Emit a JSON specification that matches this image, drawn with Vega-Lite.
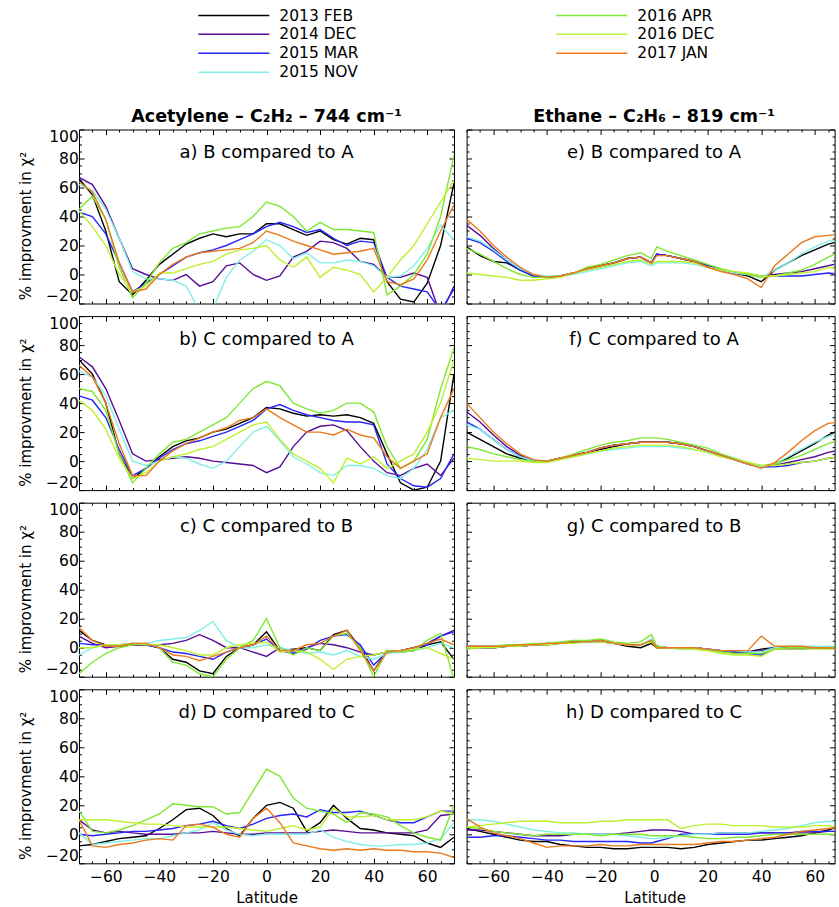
{
"$schema":"https://vega.github.io/schema/vega-lite/v6.json",
"padding":{"left":18,"top":5.5,"right":1,"bottom":0},
"background":"white",
"data":{"values":[
{"p":"a","lat":-70,"F13":66,"D14":67,"M15":43,"N15":62,"A16":45,"D16":44,"J17":64},
{"p":"a","lat":-65,"F13":55,"D14":62,"M15":40,"N15":58,"A16":54,"D16":33,"J17":57},
{"p":"a","lat":-60,"F13":30,"D14":47,"M15":28,"N15":45,"A16":38,"D16":20,"J17":38},
{"p":"a","lat":-55,"F13":-5,"D14":25,"M15":8,"N15":25,"A16":5,"D16":0,"J17":8},
{"p":"a","lat":-50,"F13":-14,"D14":4,"M15":-12,"N15":2,"A16":-16,"D16":-12,"J17":-12},
{"p":"a","lat":-45,"F13":-4,"D14":0,"M15":-6,"N15":-3,"A16":-6,"D16":-8,"J17":-10},
{"p":"a","lat":-40,"F13":7,"D14":-3,"M15":0,"N15":-3,"A16":8,"D16":1,"J17":0},
{"p":"a","lat":-35,"F13":14,"D14":-4,"M15":6,"N15":-4,"A16":18,"D16":1,"J17":7},
{"p":"a","lat":-30,"F13":21,"D14":0,"M15":12,"N15":-8,"A16":22,"D16":4,"J17":12},
{"p":"a","lat":-25,"F13":25,"D14":-8,"M15":15,"N15":-25,"A16":28,"D16":7,"J17":15},
{"p":"a","lat":-20,"F13":28,"D14":-5,"M15":17,"N15":-24,"A16":30,"D16":9,"J17":16},
{"p":"a","lat":-15,"F13":26,"D14":6,"M15":20,"N15":-2,"A16":32,"D16":14,"J17":17},
{"p":"a","lat":-10,"F13":28,"D14":8,"M15":24,"N15":10,"A16":33,"D16":17,"J17":18},
{"p":"a","lat":-5,"F13":28,"D14":0,"M15":28,"N15":16,"A16":40,"D16":18,"J17":22},
{"p":"a","lat":0,"F13":35,"D14":-4,"M15":33,"N15":24,"A16":50,"D16":20,"J17":30},
{"p":"a","lat":5,"F13":35,"D14":-1,"M15":36,"N15":20,"A16":47,"D16":10,"J17":27},
{"p":"a","lat":10,"F13":31,"D14":12,"M15":33,"N15":11,"A16":40,"D16":5,"J17":23},
{"p":"a","lat":15,"F13":27,"D14":16,"M15":29,"N15":15,"A16":30,"D16":12,"J17":20},
{"p":"a","lat":20,"F13":30,"D14":23,"M15":31,"N15":8,"A16":36,"D16":-2,"J17":17},
{"p":"a","lat":25,"F13":24,"D14":22,"M15":25,"N15":8,"A16":31,"D16":5,"J17":14},
{"p":"a","lat":30,"F13":21,"D14":18,"M15":20,"N15":10,"A16":31,"D16":3,"J17":15},
{"p":"a","lat":35,"F13":25,"D14":9,"M15":23,"N15":9,"A16":30,"D16":0,"J17":16},
{"p":"a","lat":40,"F13":24,"D14":7,"M15":22,"N15":6,"A16":29,"D16":-12,"J17":18},
{"p":"a","lat":45,"F13":-5,"D14":-2,"M15":-2,"N15":-2,"A16":-14,"D16":-2,"J17":-5},
{"p":"a","lat":50,"F13":-17,"D14":-2,"M15":-8,"N15":-1,"A16":-8,"D16":10,"J17":-7},
{"p":"a","lat":55,"F13":-19,"D14":1,"M15":-10,"N15":6,"A16":0,"D16":20,"J17":-3},
{"p":"a","lat":60,"F13":-6,"D14":-2,"M15":-12,"N15":18,"A16":14,"D16":35,"J17":10},
{"p":"a","lat":65,"F13":20,"D14":-28,"M15":-25,"N15":34,"A16":40,"D16":50,"J17":30},
{"p":"a","lat":70,"F13":63,"D14":-8,"M15":-10,"N15":24,"A16":82,"D16":65,"J17":48},
{"p":"b","lat":-70,"F13":70,"D14":72,"M15":45,"N15":62,"A16":50,"D16":42,"J17":66},
{"p":"b","lat":-65,"F13":60,"D14":65,"M15":42,"N15":58,"A16":48,"D16":35,"J17":58},
{"p":"b","lat":-60,"F13":40,"D14":50,"M15":30,"N15":45,"A16":35,"D16":22,"J17":40},
{"p":"b","lat":-55,"F13":5,"D14":28,"M15":8,"N15":22,"A16":5,"D16":2,"J17":12},
{"p":"b","lat":-50,"F13":-12,"D14":5,"M15":-10,"N15":0,"A16":-15,"D16":-12,"J17":-10},
{"p":"b","lat":-45,"F13":-5,"D14":0,"M15":-5,"N15":-3,"A16":-5,"D16":-8,"J17":-10},
{"p":"b","lat":-40,"F13":3,"D14":1,"M15":2,"N15":0,"A16":5,"D16":0,"J17":0},
{"p":"b","lat":-35,"F13":10,"D14":2,"M15":8,"N15":3,"A16":13,"D16":3,"J17":7},
{"p":"b","lat":-30,"F13":14,"D14":3,"M15":12,"N15":2,"A16":15,"D16":5,"J17":12},
{"p":"b","lat":-25,"F13":16,"D14":2,"M15":14,"N15":-2,"A16":20,"D16":8,"J17":16},
{"p":"b","lat":-20,"F13":20,"D14":0,"M15":17,"N15":-5,"A16":25,"D16":10,"J17":20},
{"p":"b","lat":-15,"F13":22,"D14":-1,"M15":20,"N15":0,"A16":30,"D16":15,"J17":23},
{"p":"b","lat":-10,"F13":26,"D14":-2,"M15":24,"N15":10,"A16":40,"D16":20,"J17":28},
{"p":"b","lat":-5,"F13":30,"D14":-3,"M15":28,"N15":20,"A16":50,"D16":25,"J17":30},
{"p":"b","lat":0,"F13":37,"D14":-8,"M15":36,"N15":24,"A16":55,"D16":27,"J17":36},
{"p":"b","lat":5,"F13":36,"D14":-4,"M15":39,"N15":14,"A16":52,"D16":15,"J17":30},
{"p":"b","lat":10,"F13":33,"D14":10,"M15":35,"N15":3,"A16":40,"D16":5,"J17":25},
{"p":"b","lat":15,"F13":31,"D14":20,"M15":32,"N15":-2,"A16":36,"D16":0,"J17":20},
{"p":"b","lat":20,"F13":32,"D14":24,"M15":30,"N15":-8,"A16":33,"D16":-5,"J17":20},
{"p":"b","lat":25,"F13":31,"D14":25,"M15":28,"N15":-10,"A16":35,"D16":-15,"J17":18},
{"p":"b","lat":30,"F13":32,"D14":21,"M15":27,"N15":-3,"A16":40,"D16":2,"J17":22},
{"p":"b","lat":35,"F13":30,"D14":10,"M15":27,"N15":-3,"A16":40,"D16":-2,"J17":18},
{"p":"b","lat":40,"F13":26,"D14":0,"M15":25,"N15":-5,"A16":34,"D16":3,"J17":16},
{"p":"b","lat":45,"F13":5,"D14":-8,"M15":-2,"N15":-10,"A16":10,"D16":-5,"J17":3},
{"p":"b","lat":50,"F13":-15,"D14":-10,"M15":-12,"N15":-12,"A16":-5,"D16":0,"J17":-5},
{"p":"b","lat":55,"F13":-20,"D14":-5,"M15":-17,"N15":-5,"A16":0,"D16":5,"J17":0},
{"p":"b","lat":60,"F13":-18,"D14":-2,"M15":-18,"N15":8,"A16":15,"D16":20,"J17":5},
{"p":"b","lat":65,"F13":0,"D14":-10,"M15":-12,"N15":30,"A16":50,"D16":40,"J17":30},
{"p":"b","lat":70,"F13":60,"D14":2,"M15":5,"N15":35,"A16":78,"D16":70,"J17":50},
{"p":"c","lat":-70,"F13":12,"D14":8,"M15":3,"N15":-5,"A16":-18,"D16":0,"J17":14},
{"p":"c","lat":-65,"F13":5,"D14":3,"M15":2,"N15":0,"A16":-10,"D16":0,"J17":5},
{"p":"c","lat":-60,"F13":2,"D14":0,"M15":2,"N15":2,"A16":-4,"D16":2,"J17":1},
{"p":"c","lat":-55,"F13":1,"D14":1,"M15":2,"N15":2,"A16":0,"D16":2,"J17":1},
{"p":"c","lat":-50,"F13":2,"D14":2,"M15":3,"N15":3,"A16":2,"D16":3,"J17":3},
{"p":"c","lat":-45,"F13":2,"D14":2,"M15":2,"N15":3,"A16":3,"D16":2,"J17":3},
{"p":"c","lat":-40,"F13":0,"D14":2,"M15":0,"N15":5,"A16":0,"D16":2,"J17":0},
{"p":"c","lat":-35,"F13":-8,"D14":3,"M15":-3,"N15":6,"A16":-10,"D16":0,"J17":-5},
{"p":"c","lat":-30,"F13":-10,"D14":5,"M15":-4,"N15":7,"A16":-12,"D16":-2,"J17":-6},
{"p":"c","lat":-25,"F13":-16,"D14":9,"M15":-6,"N15":12,"A16":-18,"D16":-5,"J17":-9},
{"p":"c","lat":-20,"F13":-18,"D14":5,"M15":-8,"N15":18,"A16":-20,"D16":-5,"J17":-6},
{"p":"c","lat":-15,"F13":-6,"D14":0,"M15":-3,"N15":5,"A16":-8,"D16":0,"J17":-3},
{"p":"c","lat":-10,"F13":0,"D14":0,"M15":0,"N15":0,"A16":0,"D16":2,"J17":0},
{"p":"c","lat":-5,"F13":2,"D14":-3,"M15":2,"N15":0,"A16":5,"D16":3,"J17":2},
{"p":"c","lat":0,"F13":11,"D14":-6,"M15":6,"N15":2,"A16":20,"D16":4,"J17":8},
{"p":"c","lat":5,"F13":-2,"D14":0,"M15":-2,"N15":0,"A16":0,"D16":-3,"J17":-2},
{"p":"c","lat":10,"F13":-1,"D14":-3,"M15":-4,"N15":-2,"A16":-5,"D16":-2,"J17":-2},
{"p":"c","lat":15,"F13":0,"D14":0,"M15":-1,"N15":-4,"A16":0,"D16":-3,"J17":2},
{"p":"c","lat":20,"F13":-2,"D14":3,"M15":5,"N15":-3,"A16":-2,"D16":-8,"J17":3},
{"p":"c","lat":25,"F13":9,"D14":2,"M15":8,"N15":-5,"A16":8,"D16":-15,"J17":8},
{"p":"c","lat":30,"F13":12,"D14":0,"M15":9,"N15":-2,"A16":10,"D16":-8,"J17":12},
{"p":"c","lat":35,"F13":0,"D14":-3,"M15":2,"N15":-6,"A16":0,"D16":-6,"J17":-2},
{"p":"c","lat":40,"F13":-16,"D14":-5,"M15":-12,"N15":-8,"A16":-20,"D16":-5,"J17":-16},
{"p":"c","lat":45,"F13":-2,"D14":-3,"M15":-3,"N15":-4,"A16":-2,"D16":-3,"J17":-3},
{"p":"c","lat":50,"F13":-3,"D14":-2,"M15":-2,"N15":-3,"A16":-3,"D16":-2,"J17":-2},
{"p":"c","lat":55,"F13":-2,"D14":0,"M15":0,"N15":-2,"A16":-2,"D16":-1,"J17":0},
{"p":"c","lat":60,"F13":2,"D14":3,"M15":2,"N15":0,"A16":5,"D16":0,"J17":3},
{"p":"c","lat":65,"F13":4,"D14":8,"M15":8,"N15":3,"A16":10,"D16":-4,"J17":6},
{"p":"c","lat":70,"F13":-8,"D14":12,"M15":11,"N15":0,"A16":-22,"D16":-8,"J17":2},
{"p":"d","lat":-70,"F13":-8,"D14":10,"M15":0,"N15":1,"A16":16,"D16":10,"J17":10},
{"p":"d","lat":-65,"F13":-7,"D14":3,"M15":-1,"N15":-7,"A16":2,"D16":10,"J17":-8},
{"p":"d","lat":-60,"F13":-5,"D14":1,"M15":0,"N15":-6,"A16":1,"D16":10,"J17":-9},
{"p":"d","lat":-55,"F13":-3,"D14":2,"M15":1,"N15":-5,"A16":3,"D16":9,"J17":-7},
{"p":"d","lat":-50,"F13":-2,"D14":1,"M15":2,"N15":-4,"A16":6,"D16":8,"J17":-6},
{"p":"d","lat":-45,"F13":-1,"D14":0,"M15":2,"N15":-3,"A16":10,"D16":7,"J17":-4},
{"p":"d","lat":-40,"F13":4,"D14":0,"M15":3,"N15":-3,"A16":14,"D16":7,"J17":-3},
{"p":"d","lat":-35,"F13":10,"D14":0,"M15":4,"N15":-1,"A16":21,"D16":6,"J17":-4},
{"p":"d","lat":-30,"F13":17,"D14":1,"M15":6,"N15":1,"A16":20,"D16":5,"J17":6},
{"p":"d","lat":-25,"F13":18,"D14":1,"M15":7,"N15":3,"A16":19,"D16":5,"J17":7},
{"p":"d","lat":-20,"F13":13,"D14":2,"M15":9,"N15":8,"A16":19,"D16":5,"J17":5},
{"p":"d","lat":-15,"F13":4,"D14":1,"M15":6,"N15":3,"A16":14,"D16":5,"J17":0},
{"p":"d","lat":-10,"F13":-1,"D14":0,"M15":4,"N15":0,"A16":15,"D16":4,"J17":-2},
{"p":"d","lat":-5,"F13":11,"D14":0,"M15":7,"N15":-1,"A16":30,"D16":3,"J17":11},
{"p":"d","lat":0,"F13":20,"D14":1,"M15":11,"N15":0,"A16":45,"D16":2,"J17":18},
{"p":"d","lat":5,"F13":22,"D14":1,"M15":13,"N15":0,"A16":40,"D16":4,"J17":8},
{"p":"d","lat":10,"F13":18,"D14":1,"M15":14,"N15":0,"A16":25,"D16":6,"J17":-6},
{"p":"d","lat":15,"F13":2,"D14":1,"M15":12,"N15":0,"A16":18,"D16":3,"J17":-8},
{"p":"d","lat":20,"F13":8,"D14":2,"M15":17,"N15":3,"A16":16,"D16":5,"J17":-10},
{"p":"d","lat":25,"F13":20,"D14":3,"M15":15,"N15":-2,"A16":14,"D16":18,"J17":-11},
{"p":"d","lat":30,"F13":11,"D14":2,"M15":15,"N15":-5,"A16":8,"D16":12,"J17":-10},
{"p":"d","lat":35,"F13":4,"D14":1,"M15":16,"N15":-7,"A16":15,"D16":12,"J17":-11},
{"p":"d","lat":40,"F13":3,"D14":1,"M15":13,"N15":-8,"A16":14,"D16":13,"J17":-10},
{"p":"d","lat":45,"F13":1,"D14":1,"M15":10,"N15":-8,"A16":12,"D16":10,"J17":-11},
{"p":"d","lat":50,"F13":0,"D14":1,"M15":8,"N15":-7,"A16":6,"D16":10,"J17":-11},
{"p":"d","lat":55,"F13":-1,"D14":1,"M15":8,"N15":-7,"A16":1,"D16":10,"J17":-12},
{"p":"d","lat":60,"F13":-6,"D14":3,"M15":12,"N15":-6,"A16":-2,"D16":12,"J17":-12},
{"p":"d","lat":65,"F13":-9,"D14":13,"M15":16,"N15":-3,"A16":-4,"D16":16,"J17":-13},
{"p":"d","lat":70,"F13":-2,"D14":14,"M15":16,"N15":8,"A16":20,"D16":14,"J17":-16},
{"p":"e","lat":-70,"F13":19,"D14":34,"M15":25,"N15":26,"A16":18,"D16":1,"J17":38},
{"p":"e","lat":-65,"F13":13,"D14":27,"M15":22,"N15":23,"A16":14,"D16":0,"J17":30},
{"p":"e","lat":-60,"F13":9,"D14":18,"M15":16,"N15":17,"A16":9,"D16":-1,"J17":20},
{"p":"e","lat":-55,"F13":8,"D14":10,"M15":9,"N15":10,"A16":4,"D16":-2,"J17":12},
{"p":"e","lat":-50,"F13":3,"D14":4,"M15":3,"N15":4,"A16":0,"D16":-4,"J17":5},
{"p":"e","lat":-45,"F13":-1,"D14":-1,"M15":-1,"N15":0,"A16":-2,"D16":-4,"J17":0},
{"p":"e","lat":-40,"F13":-2,"D14":-2,"M15":-2,"N15":-1,"A16":-2,"D16":-3,"J17":-2},
{"p":"e","lat":-35,"F13":-1,"D14":-1,"M15":-1,"N15":-1,"A16":-1,"D16":-2,"J17":-1},
{"p":"e","lat":-30,"F13":1,"D14":1,"M15":1,"N15":0,"A16":1,"D16":1,"J17":1},
{"p":"e","lat":-25,"F13":4,"D14":4,"M15":4,"N15":2,"A16":5,"D16":3,"J17":4},
{"p":"e","lat":-20,"F13":6,"D14":6,"M15":6,"N15":4,"A16":7,"D16":5,"J17":6},
{"p":"e","lat":-15,"F13":8,"D14":8,"M15":8,"N15":6,"A16":10,"D16":7,"J17":8},
{"p":"e","lat":-10,"F13":11,"D14":11,"M15":11,"N15":8,"A16":13,"D16":9,"J17":11},
{"p":"e","lat":-5,"F13":12,"D14":12,"M15":12,"N15":9,"A16":15,"D16":10,"J17":12},
{"p":"e","lat":-1,"F13":8,"D14":8,"M15":8,"N15":6,"A16":11,"D16":7,"J17":8},
{"p":"e","lat":1,"F13":14,"D14":14,"M15":14,"N15":8,"A16":19,"D16":9,"J17":13},
{"p":"e","lat":5,"F13":13,"D14":13,"M15":13,"N15":8,"A16":16,"D16":9,"J17":13},
{"p":"e","lat":10,"F13":11,"D14":11,"M15":11,"N15":8,"A16":13,"D16":9,"J17":11},
{"p":"e","lat":15,"F13":9,"D14":9,"M15":9,"N15":7,"A16":10,"D16":8,"J17":9},
{"p":"e","lat":20,"F13":6,"D14":6,"M15":6,"N15":5,"A16":7,"D16":5,"J17":5},
{"p":"e","lat":25,"F13":3,"D14":3,"M15":3,"N15":3,"A16":4,"D16":3,"J17":2},
{"p":"e","lat":30,"F13":1,"D14":1,"M15":1,"N15":1,"A16":2,"D16":2,"J17":0},
{"p":"e","lat":35,"F13":-1,"D14":0,"M15":0,"N15":0,"A16":0,"D16":1,"J17":-3},
{"p":"e","lat":40,"F13":-5,"D14":-1,"M15":-1,"N15":-2,"A16":-2,"D16":-1,"J17":-9},
{"p":"e","lat":45,"F13":3,"D14":0,"M15":-1,"N15":3,"A16":-1,"D16":-1,"J17":6},
{"p":"e","lat":50,"F13":8,"D14":1,"M15":-1,"N15":8,"A16":1,"D16":0,"J17":14},
{"p":"e","lat":55,"F13":13,"D14":2,"M15":-1,"N15":14,"A16":3,"D16":1,"J17":22},
{"p":"e","lat":60,"F13":17,"D14":4,"M15":0,"N15":19,"A16":7,"D16":2,"J17":26},
{"p":"e","lat":65,"F13":21,"D14":6,"M15":1,"N15":23,"A16":12,"D16":5,"J17":27},
{"p":"e","lat":70,"F13":23,"D14":8,"M15":0,"N15":24,"A16":16,"D16":3,"J17":28},
{"p":"f","lat":-70,"F13":20,"D14":34,"M15":27,"N15":25,"A16":10,"D16":2,"J17":40},
{"p":"f","lat":-65,"F13":15,"D14":27,"M15":22,"N15":22,"A16":8,"D16":1,"J17":30},
{"p":"f","lat":-60,"F13":10,"D14":18,"M15":15,"N15":15,"A16":5,"D16":0,"J17":20},
{"p":"f","lat":-55,"F13":5,"D14":10,"M15":8,"N15":8,"A16":3,"D16":0,"J17":12},
{"p":"f","lat":-50,"F13":2,"D14":4,"M15":3,"N15":3,"A16":1,"D16":0,"J17":5},
{"p":"f","lat":-45,"F13":0,"D14":0,"M15":0,"N15":0,"A16":0,"D16":-1,"J17":1},
{"p":"f","lat":-40,"F13":0,"D14":0,"M15":0,"N15":-1,"A16":0,"D16":-1,"J17":0},
{"p":"f","lat":-35,"F13":2,"D14":2,"M15":2,"N15":1,"A16":2,"D16":1,"J17":2},
{"p":"f","lat":-30,"F13":4,"D14":4,"M15":4,"N15":3,"A16":5,"D16":3,"J17":4},
{"p":"f","lat":-25,"F13":6,"D14":6,"M15":6,"N15":5,"A16":8,"D16":5,"J17":6},
{"p":"f","lat":-20,"F13":8,"D14":9,"M15":9,"N15":7,"A16":11,"D16":7,"J17":9},
{"p":"f","lat":-15,"F13":10,"D14":11,"M15":11,"N15":8,"A16":13,"D16":9,"J17":11},
{"p":"f","lat":-10,"F13":12,"D14":12,"M15":12,"N15":9,"A16":14,"D16":10,"J17":12},
{"p":"f","lat":-5,"F13":13,"D14":13,"M15":13,"N15":10,"A16":16,"D16":11,"J17":13},
{"p":"f","lat":-1,"F13":13,"D14":13,"M15":13,"N15":10,"A16":16,"D16":11,"J17":13},
{"p":"f","lat":1,"F13":13,"D14":13,"M15":13,"N15":10,"A16":16,"D16":11,"J17":13},
{"p":"f","lat":5,"F13":13,"D14":13,"M15":13,"N15":10,"A16":15,"D16":11,"J17":13},
{"p":"f","lat":10,"F13":12,"D14":12,"M15":12,"N15":9,"A16":13,"D16":10,"J17":12},
{"p":"f","lat":15,"F13":10,"D14":10,"M15":10,"N15":8,"A16":11,"D16":8,"J17":10},
{"p":"f","lat":20,"F13":7,"D14":7,"M15":7,"N15":6,"A16":9,"D16":6,"J17":7},
{"p":"f","lat":25,"F13":4,"D14":4,"M15":4,"N15":3,"A16":5,"D16":3,"J17":4},
{"p":"f","lat":30,"F13":1,"D14":1,"M15":1,"N15":1,"A16":2,"D16":1,"J17":1},
{"p":"f","lat":35,"F13":-2,"D14":-2,"M15":-2,"N15":-2,"A16":-1,"D16":-1,"J17":-2},
{"p":"f","lat":40,"F13":-4,"D14":-4,"M15":-4,"N15":-4,"A16":-3,"D16":-3,"J17":-5},
{"p":"f","lat":45,"F13":-2,"D14":-3,"M15":-4,"N15":-2,"A16":-2,"D16":-3,"J17":-1},
{"p":"f","lat":50,"F13":2,"D14":-1,"M15":-3,"N15":3,"A16":1,"D16":-2,"J17":6},
{"p":"f","lat":55,"F13":7,"D14":1,"M15":-1,"N15":8,"A16":4,"D16":-1,"J17":14},
{"p":"f","lat":60,"F13":12,"D14":3,"M15":0,"N15":13,"A16":8,"D16":0,"J17":21},
{"p":"f","lat":65,"F13":18,"D14":6,"M15":2,"N15":17,"A16":12,"D16":2,"J17":26},
{"p":"f","lat":70,"F13":22,"D14":8,"M15":3,"N15":20,"A16":15,"D16":3,"J17":27},
{"p":"g","lat":-70,"F13":1,"D14":1,"M15":0,"N15":1,"A16":-1,"D16":0,"J17":1},
{"p":"g","lat":-65,"F13":0,"D14":1,"M15":0,"N15":1,"A16":0,"D16":0,"J17":1},
{"p":"g","lat":-60,"F13":0,"D14":1,"M15":0,"N15":1,"A16":1,"D16":0,"J17":1},
{"p":"g","lat":-55,"F13":1,"D14":1,"M15":1,"N15":1,"A16":2,"D16":1,"J17":1},
{"p":"g","lat":-50,"F13":1,"D14":1,"M15":1,"N15":2,"A16":2,"D16":1,"J17":2},
{"p":"g","lat":-45,"F13":2,"D14":2,"M15":2,"N15":2,"A16":3,"D16":2,"J17":2},
{"p":"g","lat":-40,"F13":2,"D14":3,"M15":3,"N15":3,"A16":3,"D16":2,"J17":3},
{"p":"g","lat":-35,"F13":3,"D14":3,"M15":3,"N15":3,"A16":4,"D16":3,"J17":3},
{"p":"g","lat":-30,"F13":4,"D14":4,"M15":4,"N15":3,"A16":5,"D16":3,"J17":4},
{"p":"g","lat":-25,"F13":4,"D14":4,"M15":4,"N15":4,"A16":5,"D16":4,"J17":4},
{"p":"g","lat":-20,"F13":4,"D14":5,"M15":5,"N15":4,"A16":6,"D16":4,"J17":5},
{"p":"g","lat":-15,"F13":3,"D14":3,"M15":3,"N15":3,"A16":4,"D16":3,"J17":3},
{"p":"g","lat":-10,"F13":1,"D14":2,"M15":2,"N15":2,"A16":3,"D16":2,"J17":2},
{"p":"g","lat":-5,"F13":0,"D14":2,"M15":2,"N15":2,"A16":4,"D16":2,"J17":2},
{"p":"g","lat":-1,"F13":3,"D14":5,"M15":5,"N15":6,"A16":9,"D16":4,"J17":5},
{"p":"g","lat":1,"F13":0,"D14":1,"M15":1,"N15":1,"A16":1,"D16":0,"J17":0},
{"p":"g","lat":5,"F13":0,"D14":0,"M15":0,"N15":0,"A16":0,"D16":0,"J17":0},
{"p":"g","lat":10,"F13":0,"D14":0,"M15":0,"N15":0,"A16":-1,"D16":0,"J17":0},
{"p":"g","lat":15,"F13":0,"D14":0,"M15":0,"N15":0,"A16":-1,"D16":-1,"J17":0},
{"p":"g","lat":20,"F13":-1,"D14":-1,"M15":-1,"N15":-1,"A16":-2,"D16":-2,"J17":-1},
{"p":"g","lat":25,"F13":-2,"D14":-2,"M15":-2,"N15":-2,"A16":-3,"D16":-4,"J17":-2},
{"p":"g","lat":30,"F13":-3,"D14":-2,"M15":-3,"N15":-2,"A16":-4,"D16":-5,"J17":-2},
{"p":"g","lat":35,"F13":-3,"D14":-3,"M15":-4,"N15":-3,"A16":-4,"D16":-5,"J17":-2},
{"p":"g","lat":40,"F13":-1,"D14":-2,"M15":-5,"N15":-3,"A16":-4,"D16":-6,"J17":8},
{"p":"g","lat":45,"F13":0,"D14":0,"M15":-1,"N15":0,"A16":-1,"D16":-1,"J17":1},
{"p":"g","lat":50,"F13":0,"D14":0,"M15":-1,"N15":1,"A16":0,"D16":-1,"J17":1},
{"p":"g","lat":55,"F13":0,"D14":0,"M15":-1,"N15":1,"A16":0,"D16":-1,"J17":1},
{"p":"g","lat":60,"F13":0,"D14":0,"M15":0,"N15":1,"A16":0,"D16":-1,"J17":0},
{"p":"g","lat":65,"F13":0,"D14":0,"M15":0,"N15":1,"A16":0,"D16":-1,"J17":0},
{"p":"g","lat":70,"F13":1,"D14":0,"M15":0,"N15":1,"A16":1,"D16":-1,"J17":-1},
{"p":"h","lat":-70,"F13":4,"D14":3,"M15":-2,"N15":10,"A16":5,"D16":5,"J17":11},
{"p":"h","lat":-65,"F13":2,"D14":3,"M15":-2,"N15":10,"A16":4,"D16":6,"J17":5},
{"p":"h","lat":-60,"F13":0,"D14":2,"M15":-1,"N15":9,"A16":2,"D16":7,"J17":1},
{"p":"h","lat":-55,"F13":-2,"D14":1,"M15":-1,"N15":7,"A16":1,"D16":8,"J17":-1},
{"p":"h","lat":-50,"F13":-4,"D14":0,"M15":-2,"N15":5,"A16":0,"D16":9,"J17":-3},
{"p":"h","lat":-45,"F13":-5,"D14":-1,"M15":-3,"N15":3,"A16":-1,"D16":9,"J17":-6},
{"p":"h","lat":-40,"F13":-5,"D14":-1,"M15":-4,"N15":2,"A16":0,"D16":9,"J17":-9},
{"p":"h","lat":-35,"F13":-7,"D14":-1,"M15":-4,"N15":1,"A16":0,"D16":8,"J17":-8},
{"p":"h","lat":-30,"F13":-8,"D14":0,"M15":-5,"N15":1,"A16":0,"D16":8,"J17":-8},
{"p":"h","lat":-25,"F13":-9,"D14":0,"M15":-5,"N15":0,"A16":0,"D16":8,"J17":-8},
{"p":"h","lat":-20,"F13":-9,"D14":0,"M15":-5,"N15":0,"A16":-1,"D16":9,"J17":-7},
{"p":"h","lat":-15,"F13":-10,"D14":0,"M15":-5,"N15":0,"A16":0,"D16":9,"J17":-8},
{"p":"h","lat":-10,"F13":-10,"D14":1,"M15":-5,"N15":-1,"A16":0,"D16":10,"J17":-8},
{"p":"h","lat":-5,"F13":-9,"D14":2,"M15":-6,"N15":-2,"A16":0,"D16":10,"J17":-7},
{"p":"h","lat":-1,"F13":-9,"D14":3,"M15":-6,"N15":-3,"A16":-1,"D16":10,"J17":-7},
{"p":"h","lat":1,"F13":-9,"D14":3,"M15":-5,"N15":-3,"A16":-1,"D16":10,"J17":-7},
{"p":"h","lat":5,"F13":-9,"D14":3,"M15":-3,"N15":-2,"A16":-1,"D16":10,"J17":-7},
{"p":"h","lat":10,"F13":-10,"D14":2,"M15":0,"N15":-1,"A16":-1,"D16":4,"J17":-7},
{"p":"h","lat":15,"F13":-9,"D14":0,"M15":0,"N15":0,"A16":-2,"D16":6,"J17":-7},
{"p":"h","lat":20,"F13":-7,"D14":0,"M15":0,"N15":0,"A16":-3,"D16":7,"J17":-6},
{"p":"h","lat":25,"F13":-6,"D14":1,"M15":0,"N15":1,"A16":-3,"D16":7,"J17":-5},
{"p":"h","lat":30,"F13":-5,"D14":1,"M15":0,"N15":1,"A16":-2,"D16":6,"J17":-5},
{"p":"h","lat":35,"F13":-4,"D14":1,"M15":0,"N15":1,"A16":-2,"D16":6,"J17":-4},
{"p":"h","lat":40,"F13":-4,"D14":1,"M15":1,"N15":2,"A16":-1,"D16":6,"J17":-3},
{"p":"h","lat":45,"F13":-3,"D14":1,"M15":1,"N15":3,"A16":0,"D16":5,"J17":-2},
{"p":"h","lat":50,"F13":-2,"D14":1,"M15":1,"N15":4,"A16":0,"D16":5,"J17":0},
{"p":"h","lat":55,"F13":-1,"D14":1,"M15":2,"N15":6,"A16":0,"D16":5,"J17":2},
{"p":"h","lat":60,"F13":1,"D14":1,"M15":2,"N15":8,"A16":0,"D16":6,"J17":3},
{"p":"h","lat":65,"F13":3,"D14":2,"M15":2,"N15":9,"A16":0,"D16":6,"J17":4},
{"p":"h","lat":70,"F13":6,"D14":2,"M15":2,"N15":8,"A16":0,"D16":4,"J17":5}
]},
"transform":[{"fold":["F13","D14","M15","N15","A16","D16","J17"],"as":["s","v"]}],
"columns":2,
"spacing":{"row":9.6,"column":10.6},
"concat":[
{"width":375,"height":174,
 "title":{"text":"Acetylene – C₂H₂ – 744 cm⁻¹","font":"DejaVu Sans","fontSize":17.5,"fontWeight":"bold","offset":4,"color":"black","anchor":"middle"},
 "layer":[
  {"transform":[{"filter":"datum.p==='a'"}],"mark":{"type":"line","clip":true,"strokeWidth":1.4},
   "encoding":{
    "x":{"field":"lat","type":"quantitative","scale":{"domain":[-70,70],"nice":false,"zero":false},"axis":{"orient":"bottom","values":[-70,-65,-60,-55,-50,-45,-40,-35,-30,-25,-20,-15,-10,-5,0,5,10,15,20,25,30,35,40,45,50,55,60,65,70],"labels":false,"title":null,"tickSize":{"condition":{"test":"datum.value % 20 === 0","value":-5},"value":-2.5}}},
    "y":{"field":"v","type":"quantitative","scale":{"domain":[-20,100],"nice":false,"zero":false},"axis":{"orient":"left","values":[-20,-15,-10,-5,0,5,10,15,20,25,30,35,40,45,50,55,60,65,70,75,80,85,90,95,100],"labelExpr":"datum.value % 20 === 0 ? datum.label : ''","labelFlush":true,"labelOverlap":false,"labelPadding":5.7,"title":"% improvment in χ²","titlePadding":12,"titleY":96,"tickSize":{"condition":{"test":"datum.value % 20 === 0","value":-5},"value":-2.5}}},
    "color":{"field":"s","type":"nominal","scale":{"domain":["F13","D14","M15","N15","A16","D16","J17"],"range":["#000000","#560c98","#2626f8","#80f0e6","#7fe832","#bdf02d","#ea7a1c"]},
     "legend":{"title":null,"orient":"none","legendX":118.3,"legendY":-123.5,"columns":2,"symbolType":"stroke","symbolSize":5041,"symbolStrokeWidth":1.4,"clipHeight":18.4,"rowPadding":0,"columnPadding":196,"labelOffset":9,"labelFont":"DejaVu Sans","labelFontSize":15.5,"labelColor":"black","padding":0,"labelExpr":"{'F13':'2013 FEB','D14':'2014 DEC','M15':'2015 MAR','N15':'2015 NOV','A16':'2016 APR','D16':'2016 DEC','J17':'2017 JAN'}[datum.label]"}}}},
  {"transform":[{"filter":"false"}],"mark":{"type":"line"},
   "encoding":{
    "x":{"field":"lat","type":"quantitative","axis":{"orient":"top","values":[-70,-65,-60,-55,-50,-45,-40,-35,-30,-25,-20,-15,-10,-5,0,5,10,15,20,25,30,35,40,45,50,55,60,65,70],"labels":false,"title":null,"tickSize":{"condition":{"test":"datum.value % 20 === 0","value":-5},"value":-2.5}}},
    "y":{"field":"v","type":"quantitative","axis":{"orient":"right","values":[-20,-15,-10,-5,0,5,10,15,20,25,30,35,40,45,50,55,60,65,70,75,80,85,90,95,100],"labels":false,"title":null,"tickSize":{"condition":{"test":"datum.value % 20 === 0","value":-5},"value":-2.5}}}}},
  {"data":{"values":[{"t":"a) B compared to A"}]},"mark":{"type":"text","font":"DejaVu Sans","fontSize":18,"color":"black","baseline":"middle","align":"center"},
   "encoding":{"x":{"datum":0,"type":"quantitative","axis":null},"y":{"datum":83.5,"type":"quantitative","axis":null},"text":{"field":"t"}}}
 ],
 "resolve":{"axis":{"x":"independent","y":"independent"}}},
{"width":368,"height":174,
 "title":{"text":"Ethane – C₂H₆ – 819 cm⁻¹","font":"DejaVu Sans","fontSize":17.5,"fontWeight":"bold","offset":4,"color":"black","anchor":"middle","dx":3.5},
 "layer":[
  {"transform":[{"filter":"datum.p==='e'"}],"mark":{"type":"line","clip":true,"strokeWidth":1.4},
   "encoding":{
    "x":{"field":"lat","type":"quantitative","scale":{"domain":[-70,67.4],"nice":false,"zero":false},"axis":{"orient":"bottom","values":[-70,-65,-60,-55,-50,-45,-40,-35,-30,-25,-20,-15,-10,-5,0,5,10,15,20,25,30,35,40,45,50,55,60,65],"labels":false,"title":null,"tickSize":{"condition":{"test":"datum.value % 20 === 0","value":-5},"value":-2.5}}},
    "y":{"field":"v","type":"quantitative","scale":{"domain":[-20,100],"nice":false,"zero":false},"axis":{"orient":"left","values":[-20,-15,-10,-5,0,5,10,15,20,25,30,35,40,45,50,55,60,65,70,75,80,85,90,95,100],"labels":false,"title":null,"tickSize":{"condition":{"test":"datum.value % 20 === 0","value":-5},"value":-2.5}}},
    "color":{"field":"s","type":"nominal","scale":{"domain":["F13","D14","M15","N15","A16","D16","J17"],"range":["#000000","#560c98","#2626f8","#80f0e6","#7fe832","#bdf02d","#ea7a1c"]}}}},
  {"transform":[{"filter":"false"}],"mark":{"type":"line"},
   "encoding":{
    "x":{"field":"lat","type":"quantitative","axis":{"orient":"top","values":[-70,-65,-60,-55,-50,-45,-40,-35,-30,-25,-20,-15,-10,-5,0,5,10,15,20,25,30,35,40,45,50,55,60,65],"labels":false,"title":null,"tickSize":{"condition":{"test":"datum.value % 20 === 0","value":-5},"value":-2.5}}},
    "y":{"field":"v","type":"quantitative","axis":{"orient":"right","values":[-20,-15,-10,-5,0,5,10,15,20,25,30,35,40,45,50,55,60,65,70,75,80,85,90,95,100],"labels":false,"title":null,"tickSize":{"condition":{"test":"datum.value % 20 === 0","value":-5},"value":-2.5}}}}},
  {"data":{"values":[{"t":"e) B compared to A"}]},"mark":{"type":"text","font":"DejaVu Sans","fontSize":18,"color":"black","baseline":"middle","align":"center"},
   "encoding":{"x":{"datum":0,"type":"quantitative","axis":null},"y":{"datum":83.5,"type":"quantitative","axis":null},"text":{"field":"t"}}}
 ],
 "resolve":{"axis":{"x":"independent","y":"independent"}}},
{"width":375,"height":174,
 "layer":[
  {"transform":[{"filter":"datum.p==='b'"}],"mark":{"type":"line","clip":true,"strokeWidth":1.4},
   "encoding":{
    "x":{"field":"lat","type":"quantitative","scale":{"domain":[-70,70],"nice":false,"zero":false},"axis":{"orient":"bottom","values":[-70,-65,-60,-55,-50,-45,-40,-35,-30,-25,-20,-15,-10,-5,0,5,10,15,20,25,30,35,40,45,50,55,60,65,70],"labels":false,"title":null,"tickSize":{"condition":{"test":"datum.value % 20 === 0","value":-5},"value":-2.5}}},
    "y":{"field":"v","type":"quantitative","scale":{"domain":[-20,100],"nice":false,"zero":false},"axis":{"orient":"left","values":[-20,-15,-10,-5,0,5,10,15,20,25,30,35,40,45,50,55,60,65,70,75,80,85,90,95,100],"labelExpr":"datum.value % 20 === 0 ? datum.label : ''","labelFlush":true,"labelOverlap":false,"labelPadding":5.7,"title":"% improvment in χ²","titlePadding":12,"titleY":96,"tickSize":{"condition":{"test":"datum.value % 20 === 0","value":-5},"value":-2.5}}},
    "color":{"field":"s","type":"nominal","scale":{"domain":["F13","D14","M15","N15","A16","D16","J17"],"range":["#000000","#560c98","#2626f8","#80f0e6","#7fe832","#bdf02d","#ea7a1c"]}}}},
  {"transform":[{"filter":"false"}],"mark":{"type":"line"},
   "encoding":{
    "x":{"field":"lat","type":"quantitative","axis":{"orient":"top","values":[-70,-65,-60,-55,-50,-45,-40,-35,-30,-25,-20,-15,-10,-5,0,5,10,15,20,25,30,35,40,45,50,55,60,65,70],"labels":false,"title":null,"tickSize":{"condition":{"test":"datum.value % 20 === 0","value":-5},"value":-2.5}}},
    "y":{"field":"v","type":"quantitative","axis":{"orient":"right","values":[-20,-15,-10,-5,0,5,10,15,20,25,30,35,40,45,50,55,60,65,70,75,80,85,90,95,100],"labels":false,"title":null,"tickSize":{"condition":{"test":"datum.value % 20 === 0","value":-5},"value":-2.5}}}}},
  {"data":{"values":[{"t":"b) C compared to A"}]},"mark":{"type":"text","font":"DejaVu Sans","fontSize":18,"color":"black","baseline":"middle","align":"center"},
   "encoding":{"x":{"datum":0,"type":"quantitative","axis":null},"y":{"datum":83.5,"type":"quantitative","axis":null},"text":{"field":"t"}}}
 ],
 "resolve":{"axis":{"x":"independent","y":"independent"}}},
{"width":368,"height":174,
 "layer":[
  {"transform":[{"filter":"datum.p==='f'"}],"mark":{"type":"line","clip":true,"strokeWidth":1.4},
   "encoding":{
    "x":{"field":"lat","type":"quantitative","scale":{"domain":[-70,67.4],"nice":false,"zero":false},"axis":{"orient":"bottom","values":[-70,-65,-60,-55,-50,-45,-40,-35,-30,-25,-20,-15,-10,-5,0,5,10,15,20,25,30,35,40,45,50,55,60,65],"labels":false,"title":null,"tickSize":{"condition":{"test":"datum.value % 20 === 0","value":-5},"value":-2.5}}},
    "y":{"field":"v","type":"quantitative","scale":{"domain":[-20,100],"nice":false,"zero":false},"axis":{"orient":"left","values":[-20,-15,-10,-5,0,5,10,15,20,25,30,35,40,45,50,55,60,65,70,75,80,85,90,95,100],"labels":false,"title":null,"tickSize":{"condition":{"test":"datum.value % 20 === 0","value":-5},"value":-2.5}}},
    "color":{"field":"s","type":"nominal","scale":{"domain":["F13","D14","M15","N15","A16","D16","J17"],"range":["#000000","#560c98","#2626f8","#80f0e6","#7fe832","#bdf02d","#ea7a1c"]}}}},
  {"transform":[{"filter":"false"}],"mark":{"type":"line"},
   "encoding":{
    "x":{"field":"lat","type":"quantitative","axis":{"orient":"top","values":[-70,-65,-60,-55,-50,-45,-40,-35,-30,-25,-20,-15,-10,-5,0,5,10,15,20,25,30,35,40,45,50,55,60,65],"labels":false,"title":null,"tickSize":{"condition":{"test":"datum.value % 20 === 0","value":-5},"value":-2.5}}},
    "y":{"field":"v","type":"quantitative","axis":{"orient":"right","values":[-20,-15,-10,-5,0,5,10,15,20,25,30,35,40,45,50,55,60,65,70,75,80,85,90,95,100],"labels":false,"title":null,"tickSize":{"condition":{"test":"datum.value % 20 === 0","value":-5},"value":-2.5}}}}},
  {"data":{"values":[{"t":"f) C compared to A"}]},"mark":{"type":"text","font":"DejaVu Sans","fontSize":18,"color":"black","baseline":"middle","align":"center"},
   "encoding":{"x":{"datum":0,"type":"quantitative","axis":null},"y":{"datum":83.5,"type":"quantitative","axis":null},"text":{"field":"t"}}}
 ],
 "resolve":{"axis":{"x":"independent","y":"independent"}}},
{"width":375,"height":174,
 "layer":[
  {"transform":[{"filter":"datum.p==='c'"}],"mark":{"type":"line","clip":true,"strokeWidth":1.4},
   "encoding":{
    "x":{"field":"lat","type":"quantitative","scale":{"domain":[-70,70],"nice":false,"zero":false},"axis":{"orient":"bottom","values":[-70,-65,-60,-55,-50,-45,-40,-35,-30,-25,-20,-15,-10,-5,0,5,10,15,20,25,30,35,40,45,50,55,60,65,70],"labels":false,"title":null,"tickSize":{"condition":{"test":"datum.value % 20 === 0","value":-5},"value":-2.5}}},
    "y":{"field":"v","type":"quantitative","scale":{"domain":[-20,100],"nice":false,"zero":false},"axis":{"orient":"left","values":[-20,-15,-10,-5,0,5,10,15,20,25,30,35,40,45,50,55,60,65,70,75,80,85,90,95,100],"labelExpr":"datum.value % 20 === 0 ? datum.label : ''","labelFlush":true,"labelOverlap":false,"labelPadding":5.7,"title":"% improvment in χ²","titlePadding":12,"titleY":96,"tickSize":{"condition":{"test":"datum.value % 20 === 0","value":-5},"value":-2.5}}},
    "color":{"field":"s","type":"nominal","scale":{"domain":["F13","D14","M15","N15","A16","D16","J17"],"range":["#000000","#560c98","#2626f8","#80f0e6","#7fe832","#bdf02d","#ea7a1c"]}}}},
  {"transform":[{"filter":"false"}],"mark":{"type":"line"},
   "encoding":{
    "x":{"field":"lat","type":"quantitative","axis":{"orient":"top","values":[-70,-65,-60,-55,-50,-45,-40,-35,-30,-25,-20,-15,-10,-5,0,5,10,15,20,25,30,35,40,45,50,55,60,65,70],"labels":false,"title":null,"tickSize":{"condition":{"test":"datum.value % 20 === 0","value":-5},"value":-2.5}}},
    "y":{"field":"v","type":"quantitative","axis":{"orient":"right","values":[-20,-15,-10,-5,0,5,10,15,20,25,30,35,40,45,50,55,60,65,70,75,80,85,90,95,100],"labels":false,"title":null,"tickSize":{"condition":{"test":"datum.value % 20 === 0","value":-5},"value":-2.5}}}}},
  {"data":{"values":[{"t":"c) C compared to B"}]},"mark":{"type":"text","font":"DejaVu Sans","fontSize":18,"color":"black","baseline":"middle","align":"center"},
   "encoding":{"x":{"datum":0,"type":"quantitative","axis":null},"y":{"datum":83.5,"type":"quantitative","axis":null},"text":{"field":"t"}}}
 ],
 "resolve":{"axis":{"x":"independent","y":"independent"}}},
{"width":368,"height":174,
 "layer":[
  {"transform":[{"filter":"datum.p==='g'"}],"mark":{"type":"line","clip":true,"strokeWidth":1.4},
   "encoding":{
    "x":{"field":"lat","type":"quantitative","scale":{"domain":[-70,67.4],"nice":false,"zero":false},"axis":{"orient":"bottom","values":[-70,-65,-60,-55,-50,-45,-40,-35,-30,-25,-20,-15,-10,-5,0,5,10,15,20,25,30,35,40,45,50,55,60,65],"labels":false,"title":null,"tickSize":{"condition":{"test":"datum.value % 20 === 0","value":-5},"value":-2.5}}},
    "y":{"field":"v","type":"quantitative","scale":{"domain":[-20,100],"nice":false,"zero":false},"axis":{"orient":"left","values":[-20,-15,-10,-5,0,5,10,15,20,25,30,35,40,45,50,55,60,65,70,75,80,85,90,95,100],"labels":false,"title":null,"tickSize":{"condition":{"test":"datum.value % 20 === 0","value":-5},"value":-2.5}}},
    "color":{"field":"s","type":"nominal","scale":{"domain":["F13","D14","M15","N15","A16","D16","J17"],"range":["#000000","#560c98","#2626f8","#80f0e6","#7fe832","#bdf02d","#ea7a1c"]}}}},
  {"transform":[{"filter":"false"}],"mark":{"type":"line"},
   "encoding":{
    "x":{"field":"lat","type":"quantitative","axis":{"orient":"top","values":[-70,-65,-60,-55,-50,-45,-40,-35,-30,-25,-20,-15,-10,-5,0,5,10,15,20,25,30,35,40,45,50,55,60,65],"labels":false,"title":null,"tickSize":{"condition":{"test":"datum.value % 20 === 0","value":-5},"value":-2.5}}},
    "y":{"field":"v","type":"quantitative","axis":{"orient":"right","values":[-20,-15,-10,-5,0,5,10,15,20,25,30,35,40,45,50,55,60,65,70,75,80,85,90,95,100],"labels":false,"title":null,"tickSize":{"condition":{"test":"datum.value % 20 === 0","value":-5},"value":-2.5}}}}},
  {"data":{"values":[{"t":"g) C compared to B"}]},"mark":{"type":"text","font":"DejaVu Sans","fontSize":18,"color":"black","baseline":"middle","align":"center"},
   "encoding":{"x":{"datum":0,"type":"quantitative","axis":null},"y":{"datum":83.5,"type":"quantitative","axis":null},"text":{"field":"t"}}}
 ],
 "resolve":{"axis":{"x":"independent","y":"independent"}}},
{"width":375,"height":174,
 "layer":[
  {"transform":[{"filter":"datum.p==='d'"}],"mark":{"type":"line","clip":true,"strokeWidth":1.4},
   "encoding":{
    "x":{"field":"lat","type":"quantitative","scale":{"domain":[-70,70],"nice":false,"zero":false},"axis":{"orient":"bottom","values":[-70,-65,-60,-55,-50,-45,-40,-35,-30,-25,-20,-15,-10,-5,0,5,10,15,20,25,30,35,40,45,50,55,60,65,70],"labelExpr":"datum.value % 20 === 0 ? datum.label : ''","labelOverlap":false,"labelFlush":false,"labelPadding":11,"title":"Latitude","titlePadding":3,"tickSize":{"condition":{"test":"datum.value % 20 === 0","value":-5},"value":-2.5}}},
    "y":{"field":"v","type":"quantitative","scale":{"domain":[-20,100],"nice":false,"zero":false},"axis":{"orient":"left","values":[-20,-15,-10,-5,0,5,10,15,20,25,30,35,40,45,50,55,60,65,70,75,80,85,90,95,100],"labelExpr":"datum.value % 20 === 0 ? datum.label : ''","labelFlush":true,"labelOverlap":false,"labelPadding":5.7,"title":"% improvment in χ²","titlePadding":12,"titleY":96,"tickSize":{"condition":{"test":"datum.value % 20 === 0","value":-5},"value":-2.5}}},
    "color":{"field":"s","type":"nominal","scale":{"domain":["F13","D14","M15","N15","A16","D16","J17"],"range":["#000000","#560c98","#2626f8","#80f0e6","#7fe832","#bdf02d","#ea7a1c"]}}}},
  {"transform":[{"filter":"false"}],"mark":{"type":"line"},
   "encoding":{
    "x":{"field":"lat","type":"quantitative","axis":{"orient":"top","values":[-70,-65,-60,-55,-50,-45,-40,-35,-30,-25,-20,-15,-10,-5,0,5,10,15,20,25,30,35,40,45,50,55,60,65,70],"labels":false,"title":null,"tickSize":{"condition":{"test":"datum.value % 20 === 0","value":-5},"value":-2.5}}},
    "y":{"field":"v","type":"quantitative","axis":{"orient":"right","values":[-20,-15,-10,-5,0,5,10,15,20,25,30,35,40,45,50,55,60,65,70,75,80,85,90,95,100],"labels":false,"title":null,"tickSize":{"condition":{"test":"datum.value % 20 === 0","value":-5},"value":-2.5}}}}},
  {"data":{"values":[{"t":"d) D compared to C"}]},"mark":{"type":"text","font":"DejaVu Sans","fontSize":18,"color":"black","baseline":"middle","align":"center"},
   "encoding":{"x":{"datum":0,"type":"quantitative","axis":null},"y":{"datum":83.5,"type":"quantitative","axis":null},"text":{"field":"t"}}}
 ],
 "resolve":{"axis":{"x":"independent","y":"independent"}}},
{"width":368,"height":174,
 "layer":[
  {"transform":[{"filter":"datum.p==='h'"}],"mark":{"type":"line","clip":true,"strokeWidth":1.4},
   "encoding":{
    "x":{"field":"lat","type":"quantitative","scale":{"domain":[-70,67.4],"nice":false,"zero":false},"axis":{"orient":"bottom","values":[-70,-65,-60,-55,-50,-45,-40,-35,-30,-25,-20,-15,-10,-5,0,5,10,15,20,25,30,35,40,45,50,55,60,65],"labelExpr":"datum.value % 20 === 0 ? datum.label : ''","labelOverlap":false,"labelFlush":false,"labelPadding":11,"title":"Latitude","titlePadding":3,"titleX":188,"tickSize":{"condition":{"test":"datum.value % 20 === 0","value":-5},"value":-2.5}}},
    "y":{"field":"v","type":"quantitative","scale":{"domain":[-20,100],"nice":false,"zero":false},"axis":{"orient":"left","values":[-20,-15,-10,-5,0,5,10,15,20,25,30,35,40,45,50,55,60,65,70,75,80,85,90,95,100],"labels":false,"title":null,"tickSize":{"condition":{"test":"datum.value % 20 === 0","value":-5},"value":-2.5}}},
    "color":{"field":"s","type":"nominal","scale":{"domain":["F13","D14","M15","N15","A16","D16","J17"],"range":["#000000","#560c98","#2626f8","#80f0e6","#7fe832","#bdf02d","#ea7a1c"]}}}},
  {"transform":[{"filter":"false"}],"mark":{"type":"line"},
   "encoding":{
    "x":{"field":"lat","type":"quantitative","axis":{"orient":"top","values":[-70,-65,-60,-55,-50,-45,-40,-35,-30,-25,-20,-15,-10,-5,0,5,10,15,20,25,30,35,40,45,50,55,60,65],"labels":false,"title":null,"tickSize":{"condition":{"test":"datum.value % 20 === 0","value":-5},"value":-2.5}}},
    "y":{"field":"v","type":"quantitative","axis":{"orient":"right","values":[-20,-15,-10,-5,0,5,10,15,20,25,30,35,40,45,50,55,60,65,70,75,80,85,90,95,100],"labels":false,"title":null,"tickSize":{"condition":{"test":"datum.value % 20 === 0","value":-5},"value":-2.5}}}}},
  {"data":{"values":[{"t":"h) D compared to C"}]},"mark":{"type":"text","font":"DejaVu Sans","fontSize":18,"color":"black","baseline":"middle","align":"center"},
   "encoding":{"x":{"datum":0,"type":"quantitative","axis":null},"y":{"datum":83.5,"type":"quantitative","axis":null},"text":{"field":"t"}}}
 ],
 "resolve":{"axis":{"x":"independent","y":"independent"}}}
],
"config":{
 "view":{"stroke":null},
 "axis":{"domainColor":"black","tickColor":"black","labelColor":"black","titleColor":"black","labelFont":"DejaVu Sans","labelFontSize":15.5,"titleFont":"DejaVu Sans","titleFontSize":15,"titleFontWeight":"normal","grid":false,"domainWidth":1,"tickWidth":1},
 "legend":{"orient":"none","legendX":118.3,"legendY":-123.5,"columns":2,"symbolType":"stroke","symbolSize":5041,"symbolStrokeWidth":1.4,"clipHeight":18.4,"rowPadding":0,"columnPadding":196,"labelOffset":9,"labelFont":"DejaVu Sans","labelFontSize":15.5,"labelColor":"black","padding":0}
}
}
